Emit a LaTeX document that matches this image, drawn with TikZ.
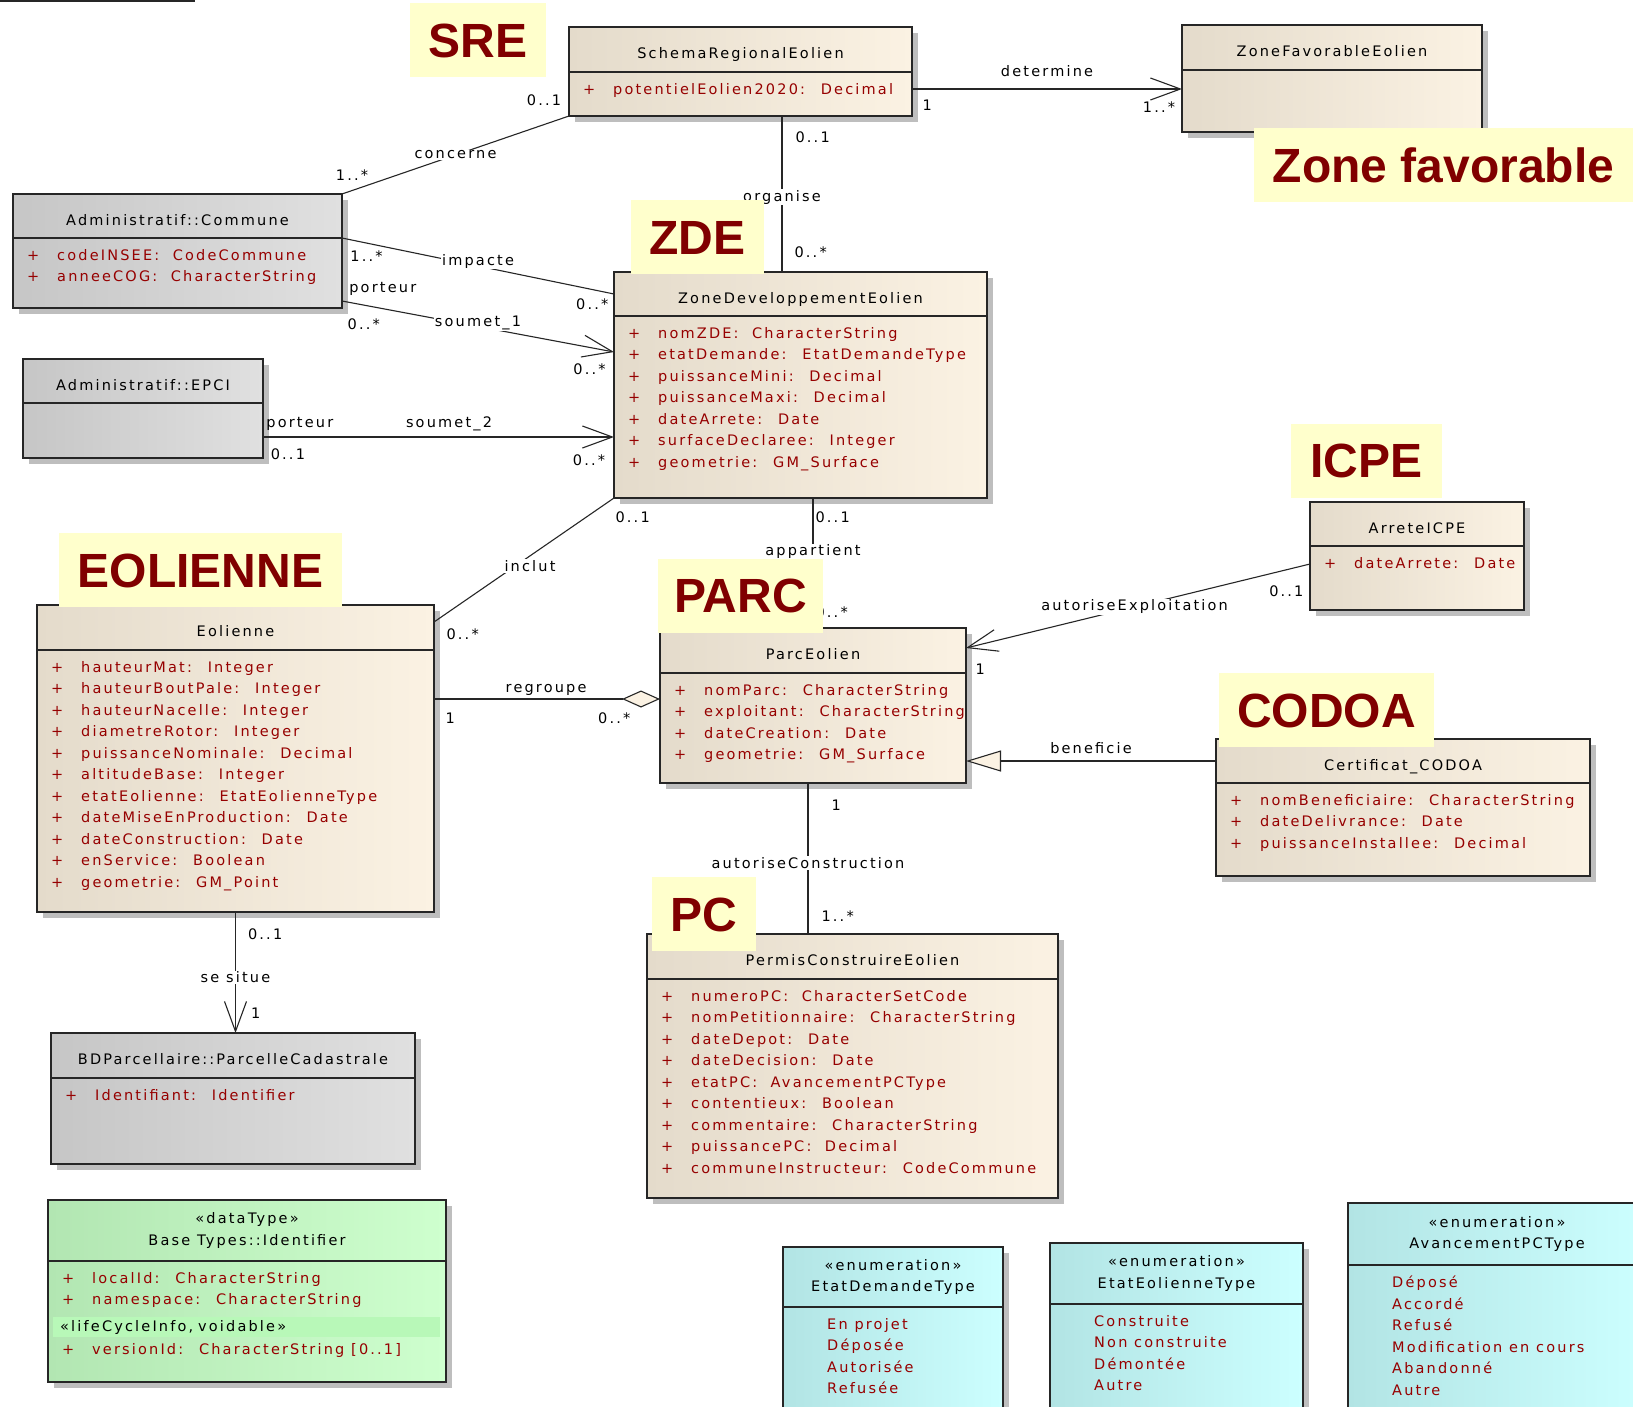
\documentclass[tikz,border=0pt]{standalone}
\usepackage{fontspec}
\usepackage{tikz}
\usetikzlibrary{arrows.meta,positioning,calc,shadows}
\newfontfamily\umlfont[LetterSpace=15]{DejaVu Sans}
\newfontfamily\tagfont{Liberation Sans}
\newcommand{\uml}{\umlfont\fontsize{14.5}{21.5}\selectfont}
\newcommand{\tagtext}{\tagfont\bfseries\fontsize{48}{56}\selectfont}
\newcommand{\attrplus}{\makebox[30pt][l]{+}}
\definecolor{classL}{RGB}{228,219,203}
\definecolor{classR}{RGB}{251,242,227}
\definecolor{grayL}{RGB}{198,198,198}
\definecolor{grayR}{RGB}{224,224,224}
\definecolor{greenL}{RGB}{178,230,178}
\definecolor{greenR}{RGB}{206,255,206}
\definecolor{greenband}{RGB}{184,248,184}
\definecolor{cyanL}{RGB}{178,228,228}
\definecolor{cyanR}{RGB}{204,255,255}
\definecolor{attrred}{RGB}{150,0,0}
\definecolor{tagyellow}{RGB}{255,255,204}
\definecolor{tagred}{RGB}{128,0,0}
\definecolor{shadowgray}{RGB}{190,190,190}

\begin{document}
\begin{tikzpicture}[x=1pt,y=-1pt,font=\uml,
    >={Straight Barb[length=30pt,width=22pt]},
    every edge/.append style={line width=1.1pt,draw=black!85},
    umlbox/.style={draw=black!85,line width=1.5pt,outer sep=0pt,inner sep=0pt,
      drop shadow={shadow xshift=6pt,shadow yshift=-6pt,fill=shadowgray,opacity=1}},
    classhead/.style={umlbox,anchor=north west,text height=21pt,text depth=3pt},
    stereohead/.style={umlbox,anchor=north west,align=center},
    classbody/.style={umlbox},
    beigebox/.style={left color=classL,right color=classR},
    greybox/.style={left color=grayL,right color=grayR},
    greenbox/.style={left color=greenL,right color=greenR},
    cyanbox/.style={left color=cyanL,right color=cyanR},
    attrs/.style={anchor=north west,align=left,text=attrred,inner xsep=14pt,inner ysep=11pt},
    enumitems/.style={attrs,inner xsep=44pt},
    mult/.style={inner sep=1pt},
    aname/.style={fill=white,inner sep=1pt},
    tagbox/.style={fill=tagyellow,text=tagred,font=\tagtext,inner sep=0pt,
      minimum height=74pt,text height=34pt,text depth=0pt},
    agg/.style={-{Diamond[length=38pt,width=17pt,fill=classR]}},
    gen/.style={-{Triangle[length=35pt,width=21pt,fill=classR]}}]

\useasboundingbox (0,0) rectangle (1633,1406);
\clip (0,0) rectangle (1633,1406);
\fill[white] (0,0) rectangle (1633,1406);
\draw[line width=1.5pt,black!85] (0,1) -- (195,1);

% classes
\node[classhead,beigebox,minimum width=343pt,minimum height=45pt] (SRE) at (569,27) {SchemaRegionalEolien};
\node[classbody,beigebox,minimum width=343pt,minimum height=44pt,below=0pt of SRE] (SREb) {};
\node[attrs] (SREa) at (SREb.north west) {\attrplus potentielEolien2020:~ Decimal};

\node[classhead,beigebox,minimum width=300pt,minimum height=45pt] (ZFE) at (1182,25) {ZoneFavorableEolien};
\node[classbody,beigebox,minimum width=300pt,minimum height=62pt,below=0pt of ZFE] (ZFEb) {};

\node[classhead,greybox,minimum width=329pt,minimum height=44pt] (COM) at (13,194) {Administratif::Commune};
\node[classbody,greybox,minimum width=329pt,minimum height=70pt,below=0pt of COM] (COMb) {};
\node[attrs] (COMa) at (COMb.north west) {\attrplus codeINSEE:~ CodeCommune\\
  \attrplus anneeCOG:~ CharacterString};

\node[classhead,greybox,minimum width=240pt,minimum height=44pt] (EPCI) at (23,359) {Administratif::EPCI};
\node[classbody,greybox,minimum width=240pt,minimum height=55pt,below=0pt of EPCI] (EPCIb) {};

\node[classhead,beigebox,minimum width=373pt,minimum height=44pt] (ZDE) at (614,272) {ZoneDeveloppementEolien};
\node[classbody,beigebox,minimum width=373pt,minimum height=182pt,below=0pt of ZDE] (ZDEb) {};
\node[attrs] (ZDEa) at (ZDEb.north west) {\attrplus nomZDE:~ CharacterString\\
  \attrplus etatDemande:~ EtatDemandeType\\
  \attrplus puissanceMini:~ Decimal\\
  \attrplus puissanceMaxi:~ Decimal\\
  \attrplus dateArrete:~ Date\\
  \attrplus surfaceDeclaree:~ Integer\\
  \attrplus geometrie:~ GM\_Surface};

\node[classhead,beigebox,minimum width=397pt,minimum height=45pt] (EOL) at (37,605) {Eolienne};
\node[classbody,beigebox,minimum width=397pt,minimum height=262pt,below=0pt of EOL] (EOLb) {};
\node[attrs] (EOLa) at (EOLb.north west) {\attrplus hauteurMat:~ Integer\\
  \attrplus hauteurBoutPale:~ Integer\\
  \attrplus hauteurNacelle:~ Integer\\
  \attrplus diametreRotor:~ Integer\\
  \attrplus puissanceNominale:~ Decimal\\
  \attrplus altitudeBase:~ Integer\\
  \attrplus etatEolienne:~ EtatEolienneType\\
  \attrplus dateMiseEnProduction:~ Date\\
  \attrplus dateConstruction:~ Date\\
  \attrplus enService:~ Boolean\\
  \attrplus geometrie:~ GM\_Point};

\node[classhead,beigebox,minimum width=306pt,minimum height=45pt] (PARC) at (660,628) {ParcEolien};
\node[classbody,beigebox,minimum width=306pt,minimum height=110pt,below=0pt of PARC] (PARCb) {};
\node[attrs] (PARCa) at (PARCb.north west) {\attrplus nomParc:~ CharacterString\\
  \attrplus exploitant:~ CharacterString\\
  \attrplus dateCreation:~ Date\\
  \attrplus geometrie:~ GM\_Surface};

\node[classhead,beigebox,minimum width=214pt,minimum height=44pt] (ICPE) at (1310,502) {ArreteICPE};
\node[classbody,beigebox,minimum width=214pt,minimum height=64pt,below=0pt of ICPE] (ICPEb) {};
\node[attrs] (ICPEa) at (ICPEb.north west) {\attrplus dateArrete:~ Date};

\node[classhead,beigebox,minimum width=374pt,minimum height=44pt] (CODOA) at (1216,739) {Certificat\_CODOA};
\node[classbody,beigebox,minimum width=374pt,minimum height=93pt,below=0pt of CODOA] (CODOAb) {};
\node[attrs] (CODOAa) at (CODOAb.north west) {\attrplus nomBeneficiaire:~ CharacterString\\
  \attrplus dateDelivrance:~ Date\\
  \attrplus puissanceInstallee:~ Decimal};

\node[classhead,beigebox,minimum width=411pt,minimum height=45pt] (PC) at (647,934) {PermisConstruireEolien};
\node[classbody,beigebox,minimum width=411pt,minimum height=219pt,below=0pt of PC] (PCb) {};
\node[attrs] (PCa) at (PCb.north west) {\attrplus numeroPC:~ CharacterSetCode\\
  \attrplus nomPetitionnaire:~ CharacterString\\
  \attrplus dateDepot:~ Date\\
  \attrplus dateDecision:~ Date\\
  \attrplus etatPC:~ AvancementPCType\\
  \attrplus contentieux:~ Boolean\\
  \attrplus commentaire:~ CharacterString\\
  \attrplus puissancePC:~ Decimal\\
  \attrplus communeInstructeur:~ CodeCommune};

\node[classhead,greybox,minimum width=364pt,minimum height=45pt] (PCAD) at (51,1033) {BDParcellaire::ParcelleCadastrale};
\node[classbody,greybox,minimum width=364pt,minimum height=86pt,below=0pt of PCAD] (PCADb) {};
\node[attrs] (PCADa) at (PCADb.north west) {\attrplus Identifiant:~ Identifier};

\node[stereohead,greenbox,minimum width=398pt,minimum height=61pt] (IDF) at (48,1200) {«dataType»\\Base Types::Identifier};
\node[classbody,greenbox,minimum width=398pt,minimum height=121pt,below=0pt of IDF] (IDFb) {};
\node[attrs] (IDFa) at (IDFb.north west) {\attrplus localId:~ CharacterString\\
  \attrplus namespace:~ CharacterString};
\node[anchor=north west,fill=greenband,text width=373pt,inner xsep=7pt,inner ysep=0pt,
  minimum height=20pt,align=left] (IDFs) at ($(IDFb.north west)+(5,56)$) {«lifeCycleInfo, voidable»};
\node[attrs] (IDFv) at ($(IDFb.north west)+(0,71)$) {\attrplus versionId:~ CharacterString [0..1]};

\node[stereohead,cyanbox,minimum width=220pt,minimum height=60pt] (EDT) at (783,1247) {«enumeration»\\EtatDemandeType};
\node[classbody,cyanbox,minimum width=220pt,minimum height=120pt,below=0pt of EDT] (EDTb) {};
\node[enumitems] (EDTa) at (EDTb.north west) {En projet\\Déposée\\Autorisée\\Refusée};

\node[stereohead,cyanbox,minimum width=253pt,minimum height=61pt] (EET) at (1050,1243) {«enumeration»\\EtatEolienneType};
\node[classbody,cyanbox,minimum width=253pt,minimum height=120pt,below=0pt of EET] (EETb) {};
\node[enumitems] (EETa) at (EETb.north west) {Construite\\Non construite\\Démontée\\Autre};

\node[stereohead,cyanbox,minimum width=298pt,minimum height=62pt] (APT) at (1348,1203) {«enumeration»\\AvancementPCType};
\node[classbody,cyanbox,minimum width=298pt,minimum height=160pt,below=0pt of APT] (APTb) {};
\node[enumitems] (APTa) at (APTb.north west) {Déposé\\Accordé\\Refusé\\Modification en cours\\Abandonné\\Autre};

% associations
\coordinate (orS) at ($(SREb.south)+(41.5,0)$);
\coordinate (detS) at ($(SREb.north east)+(0,17)$);
\coordinate (s1S) at ($(COMb.south east)+(0,-7)$);
\coordinate (s1E) at ($(ZDEb.north west)+(0,36)$);
\coordinate (s2S) at ($(EPCIb.north east)+(0,34)$);
\coordinate (incE) at ($(EOL.north east)+(0,17)$);
\coordinate (rgS) at ($(EOLb.north east)+(0,49)$);
\coordinate (aeS) at ($(ICPEb.north west)+(0,18)$);
\coordinate (aeE) at ($(PARC.north east)+(0,20)$);
\coordinate (acS) at ($(PARCb.south)+(-5,0)$);

\path (COM.north east) edge node[aname] {concerne}
          node[mult,pos=0.044,above=9pt] {1..*}
          node[mult,pos=0.89,above=17pt] {0..1} (SREb.south west)
      (COM.south east) edge node[aname,yshift=5pt] {impacte}
          node[mult,pos=0.09,below=6pt] {1..*}
          node[mult,pos=0.92,below=8pt] {0..*} (ZDE.west)
      (s1S) edge[->] node[aname,yshift=4pt] {soumet\_1}
          node[mult,pos=0.15,above=12pt] {porteur}
          node[mult,pos=0.08,below=12pt] {0..*}
          node[mult,pos=0.91,below=15pt] {0..*} (s1E)
      (s2S) edge[->] node[mult,pos=0.53,above=5pt] {soumet\_2}
          node[mult,pos=0.105,above=5pt] {porteur}
          node[mult,pos=0.071,below=10pt] {0..1}
          node[mult,pos=0.929,below=16pt] {0..*} (s2S -| ZDEb.west)
      (orS) edge node[aname,pos=0.52] {organise}
          node[mult,pos=0.135,right=12pt] {0..1}
          node[mult,pos=0.87,right=11pt] {0..*} (orS |- ZDE.north)
      (detS) edge[->] node[mult,above=11pt] {determine}
          node[mult,pos=0.056,below=9pt] {1}
          node[mult,pos=0.915,below=11pt] {1..*} (detS -| ZFEb.west)
      (ZDEb.south -| PARC.north) edge node[aname,pos=0.415] {appartient}
          node[mult,pos=0.15,right=1pt] {0..1}
          node[mult,pos=0.877,right=1pt] {0..*} (PARC.north)
      (ZDEb.south west) edge node[aname,xshift=6pt,yshift=-6pt] {inclut}
          node[mult,at start,below right=12pt and 0pt] {0..1}
          node[mult,at end,below right=5pt and 11pt] {0..*} (incE)
      (rgS) edge[agg] node[mult,pos=0.496,above=2pt] {regroupe}
          node[mult,at start,below right=12pt and 10pt] {1}
          node[mult,at end,below left=12pt and 28pt] {0..*} (rgS -| PARCb.west)
      (aeS) edge[->] node[aname,pos=0.51] {autoriseExploitation}
          node[mult,at start,below left=20pt and 5pt] {0..1}
          node[mult,at end,below right=14pt and 8pt] {1} (aeE)
      (CODOA.west) edge[gen] node[mult,above=6pt] {beneficie} (CODOA.west -| PARCb.east)
      (acS) edge node[aname,pos=0.53] {autoriseConstruction}
          node[mult,at start,below right=15pt and 22pt] {1}
          node[mult,at end,above right=11pt and 12pt] {1..*} (acS |- PC.north)
      (EOLb.south) edge[->] node[aname,pos=0.54] {se situe}
          node[mult,at start,below right=15pt and 11pt] {0..1}
          node[mult,at end,above right=13pt and 14pt] {1} (EOLb.south |- PCAD.north);

% labels
\node[tagbox,minimum width=136pt] (tSRE) at (478,40) {SRE};
\node[tagbox,minimum width=379pt] (tZF) at (1443.5,165) {Zone favorable};
\node[tagbox,minimum width=133pt] (tZDE) at (697.5,237) {ZDE};
\node[tagbox,minimum width=283pt] (tEOL) at (200.5,570) {EOLIENNE};
\node[tagbox,minimum width=165pt] (tPARC) at (740.5,595.5) {PARC};
\node[tagbox,minimum width=151pt] (tICPE) at (1366.5,460.5) {ICPE};
\node[tagbox,minimum width=215pt] (tCODOA) at (1326.5,710) {CODOA};
\node[tagbox,minimum width=104pt] (tPC) at (704,914) {PC};

\end{tikzpicture}
\end{document}
